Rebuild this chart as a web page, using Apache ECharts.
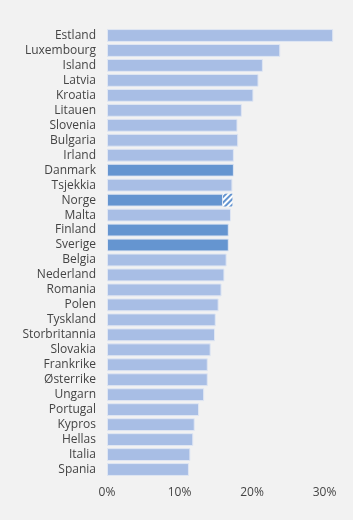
<!DOCTYPE html>
<html>
<head>
<meta charset="utf-8">
<script src="https://cdn.jsdelivr.net/npm/echarts@6/dist/echarts.min.js"></script>
<style>
  html, body { margin: 0; padding: 0; background: #f2f2f2; }
  #chart { width: 353px; height: 520px; }
</style>
</head>
<body>
<div id="chart"></div>
<script>
const countries = ['Estland', 'Luxembourg', 'Island', 'Latvia', 'Kroatia', 'Litauen', 'Slovenia', 'Bulgaria',
  'Irland', 'Danmark', 'Tsjekkia', 'Norge', 'Malta', 'Finland', 'Sverige', 'Belgia', 'Nederland', 'Romania',
  'Polen', 'Tyskland', 'Storbritannia', 'Slovakia', 'Frankrike', 'Østerrike', 'Ungarn', 'Portugal', 'Kypros',
  'Hellas', 'Italia', 'Spania'];
const shares = [31.2, 23.9, 21.5, 20.9, 20.2, 18.6, 18.0, 18.1, 17.5, 17.5, 17.3, 16.0, 17.1, 16.8, 16.8, 16.5,
  16.2, 15.8, 15.4, 15.0, 14.9, 14.3, 13.9, 13.9, 13.4, 12.7, 12.1, 11.9, 11.5, 11.3];
// extra (hatched) part, only for Norge
const extra = [0, 0, 0, 0, 0, 0, 0, 0, 0, 0, 0, 1.3, 0, 0, 0, 0, 0, 0, 0, 0, 0, 0, 0, 0, 0, 0, 0, 0, 0, 0];
const nordic = ['Danmark', 'Norge', 'Finland', 'Sverige'];
const xTicks = [0, 10, 20, 30];

const light = '#a8bee5';
const dark = '#6595d0';

const chart = echarts.init(document.getElementById('chart'));

chart.setOption({
  backgroundColor: '#f2f2f2',
  animation: false,
  grid: { left: 107, right: 14, top: 28, bottom: 43 },
  xAxis: {
    type: 'value',
    min: 0,
    max: 32,
    interval: 10,
    splitLine: { show: false },
    axisLine: { show: false },
    axisTick: { show: false },
    axisLabel: {
      showMaxLabel: false,
      margin: 10,
      color: '#444',
      fontFamily: 'Open Sans',
      fontSize: 12,
      formatter: v => (xTicks.indexOf(v) >= 0 ? v + '%' : '')
    }
  },
  yAxis: {
    type: 'category',
    inverse: true,
    data: countries,
    axisLine: { show: false },
    axisTick: { show: false },
    axisLabel: {
      interval: 0,
      margin: 11,
      color: '#444',
      fontFamily: 'Open Sans',
      fontSize: 12
    }
  },
  series: [
    {
      type: 'bar',
      stack: 'a',
      barCategoryGap: '14%',
      data: shares.map((v, i) => ({
        value: v,
        itemStyle: { color: nordic.indexOf(countries[i]) >= 0 ? dark : light }
      })),
      itemStyle: { borderColor: '#dfe6f3', borderWidth: 1 }
    },
    {
      type: 'bar',
      stack: 'a',
      data: extra,
      itemStyle: {
        color: '#ffffff',
        decal: {
          symbol: 'rect',
          symbolSize: 1,
          dashArrayX: [1, 0],
          dashArrayY: [2, 2],
          rotation: -Math.PI / 4,
          color: dark
        }
      }
    }
  ]
});
</script>
</body>
</html>
